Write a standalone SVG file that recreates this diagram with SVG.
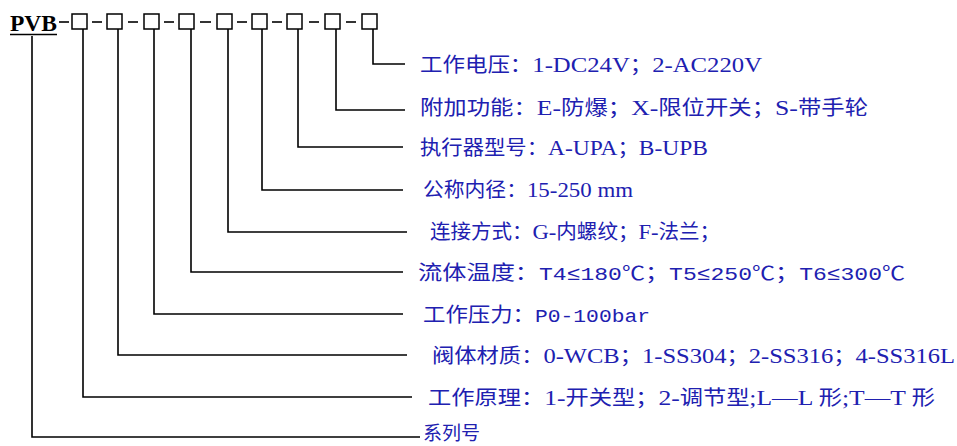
<svg xmlns="http://www.w3.org/2000/svg" width="957" height="446" viewBox="0 0 957 446">
<style>
.bx{fill:#fff;stroke:#000;stroke-width:1.5}
.ln{fill:none;stroke:#000;stroke-width:1.6}
.lb{font-family:"Liberation Serif","Noto Sans CJK SC",serif;font-size:22px;fill:#2020b0}
.cj{font-family:"Noto Sans CJK SC","Liberation Sans",sans-serif;font-size:20px}
.mo{font-family:"Liberation Mono","Noto Sans CJK SC",monospace;font-size:19px}
.ti{font-family:"Liberation Serif",serif;font-size:24px;font-weight:bold;fill:#000}
.sr{font-family:"Noto Sans CJK SC","Liberation Sans",sans-serif;font-size:19px;fill:#2020b0}
</style>
<rect width="957" height="446" fill="#fff"/>
<g id="title">
<text class="ti" x="10" y="31" textLength="47" lengthAdjust="spacingAndGlyphs">PVB</text>
<line x1="10" y1="34.5" x2="57" y2="34.5" stroke="#000" stroke-width="1.6"/>
</g>
<g id="code-boxes">
<rect class="bx" x="72" y="14" width="15" height="15"/>
<rect class="bx" x="107" y="14" width="15" height="15"/>
<rect class="bx" x="144" y="14" width="15" height="15"/>
<rect class="bx" x="179" y="14" width="15" height="15"/>
<rect class="bx" x="217" y="14" width="15" height="15"/>
<rect class="bx" x="252" y="14" width="15" height="15"/>
<rect class="bx" x="287" y="14" width="15" height="15"/>
<rect class="bx" x="325" y="14" width="15" height="15"/>
<rect class="bx" x="362" y="14" width="15" height="15"/>
<g stroke="#000" stroke-width="1.6">
<line x1="59" y1="22" x2="69" y2="22"/>
<line x1="92" y1="22" x2="102" y2="22"/>
<line x1="128" y1="22" x2="138" y2="22"/>
<line x1="164" y1="22" x2="174" y2="22"/>
<line x1="200" y1="22" x2="211" y2="22"/>
<line x1="237" y1="22" x2="247" y2="22"/>
<line x1="272" y1="22" x2="282" y2="22"/>
<line x1="309" y1="22" x2="319" y2="22"/>
<line x1="346" y1="22" x2="356" y2="22"/>
</g>
</g>
<g id="connectors">
<path class="ln" d="M32 36V437H420"/>
<path class="ln" d="M83 29V397H412"/>
<path class="ln" d="M118 29V355H407"/>
<path class="ln" d="M154 29V314H403"/>
<path class="ln" d="M191 29V272H403"/>
<path class="ln" d="M228 29V232H407"/>
<path class="ln" d="M262 29V190H403"/>
<path class="ln" d="M298 29V147H403"/>
<path class="ln" d="M336 29V110H405"/>
<path class="ln" d="M373 29V64H405"/>
</g>
<g id="label-voltage"><text class="lb" x="420" y="72" textLength="342" lengthAdjust="spacingAndGlyphs"><tspan class="cj">工作电压：</tspan>1-DC24V<tspan class="cj">；</tspan>2-AC220V</text></g>
<g id="label-function"><text class="lb" x="420" y="115" textLength="448" lengthAdjust="spacingAndGlyphs"><tspan class="cj">附加功能：</tspan>E-<tspan class="cj">防爆；</tspan>X-<tspan class="cj">限位开关；</tspan>S-<tspan class="cj">带手轮</tspan></text></g>
<g id="label-actuator"><text class="lb" x="420" y="155" textLength="288" lengthAdjust="spacingAndGlyphs"><tspan class="cj">执行器型号：</tspan>A-UPA<tspan class="cj">；</tspan>B-UPB</text></g>
<g id="label-diameter"><text class="lb" x="423" y="197" textLength="210" lengthAdjust="spacingAndGlyphs"><tspan class="cj">公称内径：</tspan>15-250 mm</text></g>
<g id="label-connection"><text class="lb" x="430" y="239" textLength="290" lengthAdjust="spacingAndGlyphs"><tspan class="cj">连接方式：</tspan>G-<tspan class="cj">内螺纹；</tspan>F-<tspan class="cj">法兰；</tspan></text></g>
<g id="label-temperature"><text class="lb" x="418" y="280" textLength="487" lengthAdjust="spacingAndGlyphs"><tspan class="cj">流体温度：</tspan><tspan class="mo">T4≤180℃</tspan><tspan class="cj">；</tspan><tspan class="mo">T5≤250℃</tspan><tspan class="cj">；</tspan><tspan class="mo">T6≤300℃</tspan></text></g>
<g id="label-pressure"><text class="lb" x="423" y="322" textLength="227" lengthAdjust="spacingAndGlyphs"><tspan class="cj">工作压力：</tspan><tspan class="mo">P0-100bar</tspan></text></g>
<g id="label-material"><text class="lb" x="432" y="363" textLength="523" lengthAdjust="spacingAndGlyphs"><tspan class="cj">阀体材质：</tspan>0-WCB<tspan class="cj">；</tspan>1-SS304<tspan class="cj">；</tspan>2-SS316<tspan class="cj">；</tspan>4-SS316L</text></g>
<g id="label-principle"><text class="lb" x="428" y="405" textLength="507" lengthAdjust="spacingAndGlyphs"><tspan class="cj">工作原理：</tspan>1-<tspan class="cj">开关型；</tspan>2-<tspan class="cj">调节型</tspan>;L—L <tspan class="cj">形</tspan>;T—T <tspan class="cj">形</tspan></text></g>
<g id="label-series"><text class="sr" x="423" y="440">系列号</text></g>
</svg>
